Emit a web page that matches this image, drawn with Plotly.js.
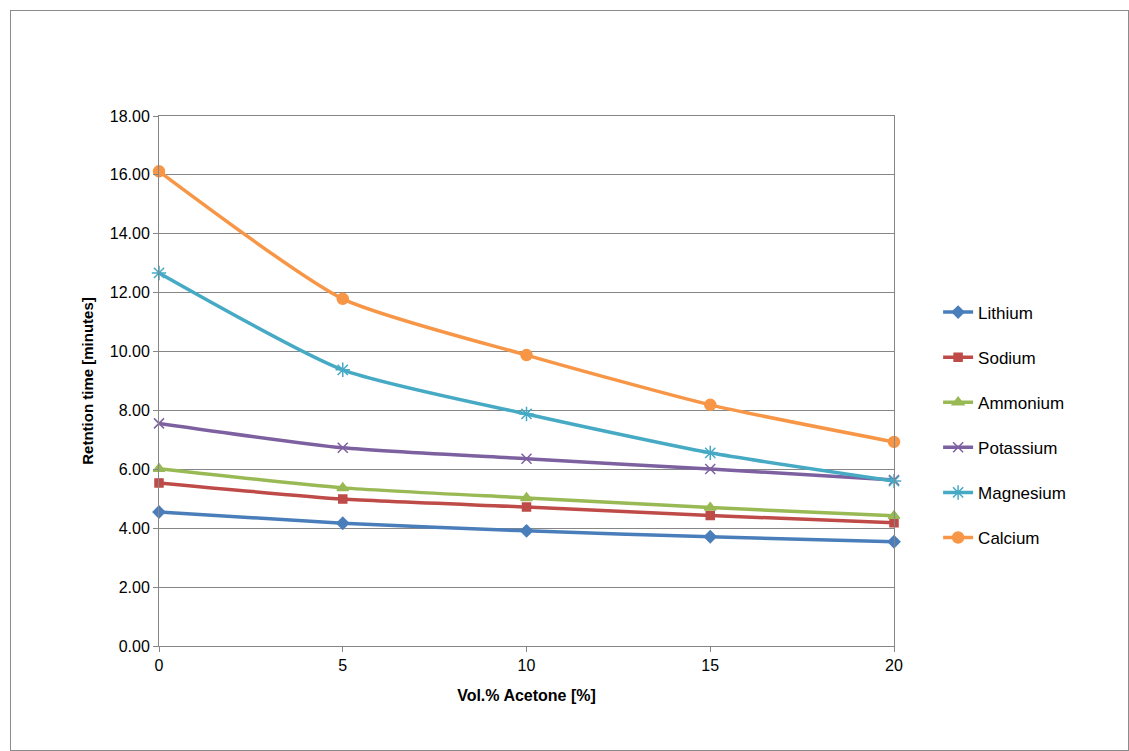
<!DOCTYPE html>
<html>
<head>
<meta charset="utf-8">
<script src="https://cdn.plot.ly/plotly-3.0.1.min.js"></script>
<style>
  body { margin: 0; background: #fff; }
  #chart { position: absolute; left: 10px; top: 10px; width: 1117px; height: 739px; border: 1px solid #8c8c8c; }
</style>
</head>
<body>
<div id="chart"></div>
<script>
const acetone = [0, 5, 10, 15, 20];
const lithium = [4.55, 4.17, 3.91, 3.71, 3.54];
const sodium = [5.54, 4.99, 4.72, 4.43, 4.19];
const ammonium = [6.02, 5.37, 5.03, 4.70, 4.42];
const potassium = [7.56, 6.73, 6.36, 6.01, 5.64];
const magnesium = [12.67, 9.38, 7.88, 6.56, 5.60];
const calcium = [16.12, 11.79, 9.88, 8.19, 6.93];

const series = [
  { name: "Lithium", y: lithium, color: "#4a7ebb", symbol: "diamond", size: 9 },
  { name: "Sodium", y: sodium, color: "#be4b48", symbol: "square", size: 8 },
  { name: "Ammonium", y: ammonium, color: "#98b954", symbol: "triangle-up", size: 10 },
  { name: "Potassium", y: potassium, color: "#7d60a0", symbol: "x-thin-open", size: 10 },
  { name: "Magnesium", y: magnesium, color: "#46aac5", symbol: "asterisk-open", size: 12 },
  { name: "Calcium", y: calcium, color: "#f79646", symbol: "circle", size: 11 },
];

const traces = series.map((s) => ({
  x: acetone,
  y: s.y,
  name: s.name,
  legendgroup: s.name,
  type: "scatter",
  mode: "lines+markers",
  cliponaxis: false,
  line: { color: s.color, width: 3.5, shape: "spline", smoothing: 0.6 },
  marker: { color: s.color, symbol: s.symbol, size: s.size, line: { color: s.color, width: 1.5 } },
}));

const layout = {
  width: 1117,
  height: 739,
  margin: { l: 148, r: 234, t: 105, b: 104 },
  paper_bgcolor: "#ffffff",
  plot_bgcolor: "#ffffff",
  showlegend: true,
  font: { family: "Liberation Sans, Arial, sans-serif", size: 16, color: "#000" },
  legend: { x: 1.06, y: 0.417, yanchor: "middle", tracegroupgap: 20, font: { size: 17 } },
  xaxis: {
    range: [0, 20],
    tickvals: acetone,
    showgrid: false,
    zeroline: false,
    showline: true,
    mirror: true,
    linecolor: "#868686",
    ticks: "outside",
    tickcolor: "#868686",
    ticklen: 5,
    title: { text: "<b>Vol.% Acetone [%]</b>", font: { size: 16 }, standoff: 16 },
  },
  yaxis: {
    range: [0, 18],
    dtick: 2,
    tickformat: ".2f",
    showgrid: true,
    gridcolor: "#868686",
    zeroline: false,
    showline: true,
    mirror: true,
    linecolor: "#868686",
    ticks: "outside",
    tickcolor: "#868686",
    ticklen: 5,
    title: { text: "<b>Retntion time [minutes]</b>", font: { size: 15 }, standoff: 12 },
  },
};

Plotly.newPlot("chart", traces, layout, { displayModeBar: false });
</script>
</body>
</html>
